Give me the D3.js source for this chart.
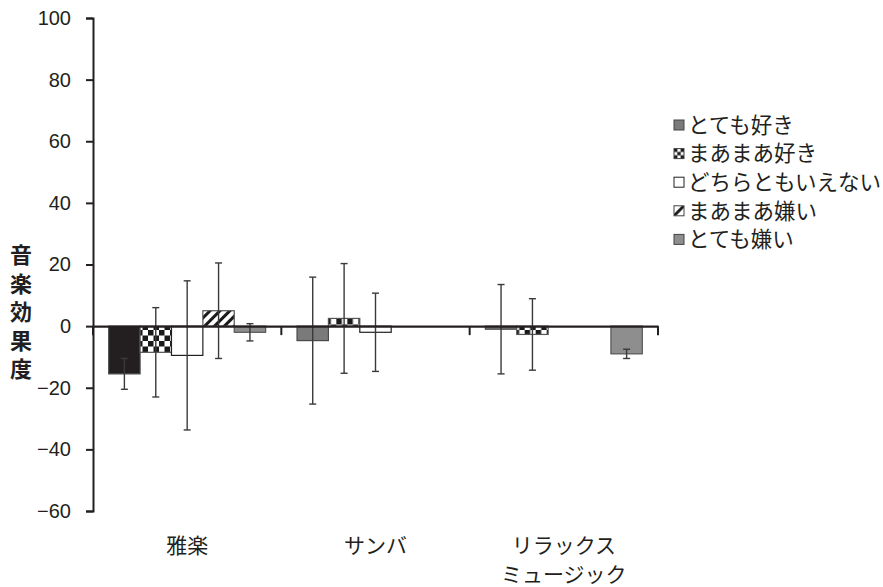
<!DOCTYPE html>
<html>
<head>
<meta charset="utf-8">
<script src="https://cdn.jsdelivr.net/npm/d3@7"></script>
<style>
  html, body { margin: 0; padding: 0; background: #fff; }
  svg { display: block; }
  text { font-family: "Noto Sans CJK JP", "Noto Sans", sans-serif; fill: #231f20; }
  .num { font-family: "Liberation Sans", Arial, sans-serif; }
</style>
</head>
<body>
<svg id="chart" width="883" height="587"></svg>
<script>
// Music categories (x axis), possibly multi-line
const categories = ["雅楽", "サンバ", "リラックス\nミュージック"];
// Preference groups (legend order)
const series = ["とても好き", "まあまあ好き", "どちらともいえない", "まあまあ嫌い", "とても嫌い"];
// Mean music effect score per category, one array per series (null = no bar)
const veryLike    = [-15.5, -4.7, -1.0];
const somewhatLike = [-8.5,  2.5, -2.7];
const neutral     = [-9.5, -2.0, null];
const somewhatDislike = [5.0, null, null];
const veryDislike = [-2.0, null, -9.0];
// Standard deviations (error bars)
const veryLikeSD    = [5.0, 20.6, 14.5];
const somewhatLikeSD = [14.5, 17.8, 11.6];
const neutralSD     = [24.2, 12.7, null];
const somewhatDislikeSD = [15.5, null, null];
const veryDislikeSD = [2.8, null, 1.5];
// Y axis ticks
const yTicks = [-60, -40, -20, 0, 20, 40, 60, 80, 100];
const yLabel = "音楽効果度";

const means = [veryLike, somewhatLike, neutral, somewhatDislike, veryDislike];
const sds = [veryLikeSD, somewhatLikeSD, neutralSD, somewhatDislikeSD, veryDislikeSD];

const svg = d3.select("#chart");
const defs = svg.append("defs");

// Checkerboard fill
const chk = defs.append("pattern").attr("id", "checker")
  .attr("patternUnits", "userSpaceOnUse").attr("width", 11).attr("height", 11);
chk.append("rect").attr("width", 11).attr("height", 11).attr("fill", "#fff");
chk.append("rect").attr("width", 5.5).attr("height", 5.5).attr("fill", "#1a1a1a");
chk.append("rect").attr("x", 5.5).attr("y", 5.5).attr("width", 5.5).attr("height", 5.5).attr("fill", "#1a1a1a");

// Diagonal hatch fill
const hatch = defs.append("pattern").attr("id", "hatch")
  .attr("patternUnits", "userSpaceOnUse").attr("width", 7).attr("height", 7)
  .attr("patternTransform", "rotate(45)");
hatch.append("rect").attr("width", 7).attr("height", 7).attr("fill", "#fff");
hatch.append("rect").attr("width", 3).attr("height", 7).attr("fill", "#1a1a1a");

// Small legend swatch patterns
const chkL = defs.append("pattern").attr("id", "checkerL")
  .attr("patternUnits", "objectBoundingBox").attr("width", 1).attr("height", 1);
chkL.append("rect").attr("width", 10).attr("height", 10).attr("fill", "#fff");
[[0,0],[6.6,0],[3.3,3.3],[0,6.6],[6.6,6.6]].forEach(([a,b]) =>
  chkL.append("rect").attr("x", a).attr("y", b).attr("width", 3.4).attr("height", 3.4).attr("fill", "#1a1a1a"));
const hL = defs.append("pattern").attr("id", "hatchL")
  .attr("patternUnits", "objectBoundingBox").attr("width", 1).attr("height", 1);
hL.append("rect").attr("width", 10).attr("height", 10).attr("fill", "#fff");
hL.append("path").attr("d", "M0,10 L10,0").attr("stroke", "#1a1a1a").attr("stroke-width", 3);

const seriesFill = ["#7a7a7a", "url(#checker)", "#ffffff", "url(#hatch)", "#8e8e8e"];
const legendFill = ["#7a7a7a", "url(#checkerL)", "#ffffff", "url(#hatchL)", "#8e8e8e"];
const seriesStroke = ["#4a4a4a", "#555", "#231f20", "#555", "#555"];
// The 雅楽 "とても好き" bar is printed solid black
const barFill = (si, ci) => (si === 0 && ci === 0) ? "#231f20" : seriesFill[si];

const left = 93;

const y = d3.scaleLinear().domain([-60, 100]).range([511, 18]);
const x0 = d3.scaleBand().domain(d3.range(categories.length))
  .range([left, left + 565]).padding(0);
const x1 = d3.scaleBand().domain(d3.range(series.length))
  .range([0, x0.bandwidth()]).paddingInner(0).paddingOuter(0.5);

// Y axis
const yAxis = d3.axisLeft(y).tickValues(yTicks).tickSize(7).tickPadding(15)
  .tickFormat(d => d < 0 ? "\u2212" + Math.abs(d) : String(d));
const gy = svg.append("g").attr("transform", `translate(${left},0)`).call(yAxis);
gy.select(".domain").attr("stroke", "#231f20").attr("stroke-width", 2);
gy.selectAll(".tick line").attr("stroke", "#231f20").attr("stroke-width", 2);
gy.selectAll(".tick text").attr("class", "num").attr("font-size", 20).attr("fill", "#231f20");

// Y label, written vertically
svg.append("text")
  .attr("x", 21).attr("y", 315)
  .attr("font-size", 22).attr("font-weight", "bold")
  .attr("text-anchor", "middle")
  .style("writing-mode", "vertical-rl")
  .style("letter-spacing", "6.5px")
  .text(yLabel);

// Bars
const groups = svg.append("g").selectAll("g")
  .data(categories).join("g")
  .attr("transform", (d, ci) => `translate(${x0(ci)},0)`);

groups.each(function (cat, ci) {
  const g = d3.select(this);
  series.forEach((s, si) => {
    const v = means[si][ci];
    if (v == null) return;
    g.append("rect")
      .attr("x", x1(si))
      .attr("y", y(Math.max(0, v)))
      .attr("width", x1.bandwidth())
      .attr("height", Math.abs(y(v) - y(0)))
      .attr("fill", barFill(si, ci))
      .attr("stroke", seriesStroke[si])
      .attr("stroke-width", 1.2);
  });
});

// Error bars
groups.each(function (cat, ci) {
  const g = d3.select(this);
  series.forEach((s, si) => {
    const v = means[si][ci], sd = sds[si][ci];
    if (v == null || sd == null) return;
    const cx = x1(si) + x1.bandwidth() / 2;
    const top = y(v + sd), bot = y(v - sd);
    const col = "#3a3a3a";
    g.append("line").attr("x1", cx).attr("x2", cx).attr("y1", top).attr("y2", bot)
      .attr("stroke", col).attr("stroke-width", 1.4);
    [top, bot].forEach(yy => g.append("line")
      .attr("x1", cx - 3.5).attr("x2", cx + 3.5).attr("y1", yy).attr("y2", yy)
      .attr("stroke", col).attr("stroke-width", 1.4));
  });
});

// Category axis along zero
const xAxis = d3.axisBottom(x0).tickSize(0).tickFormat("");
const gx = svg.append("g").attr("transform", `translate(0,${y(0)})`).call(xAxis);
gx.select(".domain").attr("stroke", "#231f20").attr("stroke-width", 2.2);
gx.selectAll(".tick").remove();
const bounds = d3.range(categories.length + 1).map(i => left + i * x0.step());
gx.selectAll("line.sep").data(bounds).join("line").attr("class", "sep")
  .attr("x1", d => d).attr("x2", d => d).attr("y1", 0).attr("y2", 9)
  .attr("stroke", "#231f20").attr("stroke-width", 2);

// Category labels
categories.forEach((c, ci) => {
  const t = svg.append("text").attr("font-size", 21).attr("text-anchor", "middle");
  c.split("\n").forEach((line, li) => {
    t.append("tspan").attr("x", x0(ci) + x0.bandwidth() / 2)
      .attr("y", 553 + li * 29).text(line);
  });
});

// Legend
const lg = svg.append("g").attr("transform", "translate(674,125)");
series.forEach((s, si) => {
  const row = lg.append("g").attr("transform", `translate(0,${si * 28.6})`);
  row.append("rect").attr("x", 0).attr("y", -5).attr("width", 10).attr("height", 10)
    .attr("fill", legendFill[si])
    .attr("stroke", si === 2 ? "#231f20" : "#444").attr("stroke-width", 1);
  row.append("text").attr("x", 14).attr("y", 0).attr("dy", "0.36em")
    .attr("font-size", 21.5).text(s);
});
</script>
</body>
</html>
